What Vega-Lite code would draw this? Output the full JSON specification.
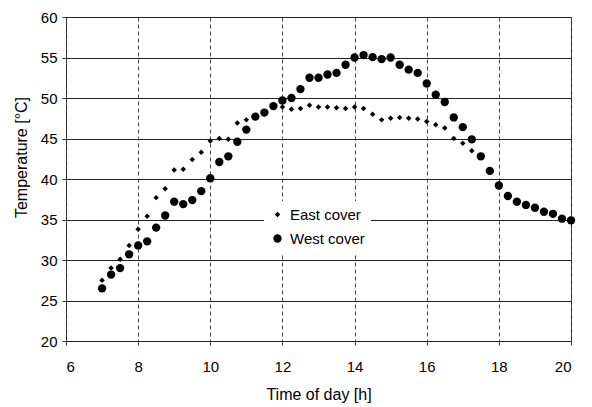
{
  "$schema": "https://vega.github.io/schema/vega-lite/v6.json",
  "autosize": "none",
  "width": 505,
  "height": 324,
  "padding": {"left": 66, "top": 17, "right": 21, "bottom": 66},
  "background": "white",
  "config": {
    "font": "Liberation Sans",
    "view": {"stroke": "#222", "strokeWidth": 1},
    "legend": {
      "orient": "none", "legendX": 198, "legendY": 184,
      "fillColor": "white", "padding": 6, "labelFontSize": 15, "labelColor": "black",
      "rowPadding": 8, "labelOffset": 5, "symbolStrokeWidth": 0
    }
  },
  "data": {"values": [
    {"hour": 7.0, "temp": 27.5, "series": "East cover"},
    {"hour": 7.25, "temp": 29.0, "series": "East cover"},
    {"hour": 7.5, "temp": 30.1, "series": "East cover"},
    {"hour": 7.75, "temp": 31.8, "series": "East cover"},
    {"hour": 8.0, "temp": 33.8, "series": "East cover"},
    {"hour": 8.25, "temp": 35.4, "series": "East cover"},
    {"hour": 8.5, "temp": 37.7, "series": "East cover"},
    {"hour": 8.75, "temp": 38.8, "series": "East cover"},
    {"hour": 9.0, "temp": 41.1, "series": "East cover"},
    {"hour": 9.25, "temp": 41.2, "series": "East cover"},
    {"hour": 9.5, "temp": 42.4, "series": "East cover"},
    {"hour": 9.75, "temp": 43.3, "series": "East cover"},
    {"hour": 10.0, "temp": 44.7, "series": "East cover"},
    {"hour": 10.25, "temp": 45.0, "series": "East cover"},
    {"hour": 10.5, "temp": 44.9, "series": "East cover"},
    {"hour": 10.75, "temp": 46.9, "series": "East cover"},
    {"hour": 11.0, "temp": 47.3, "series": "East cover"},
    {"hour": 11.25, "temp": 47.7, "series": "East cover"},
    {"hour": 11.5, "temp": 48.2, "series": "East cover"},
    {"hour": 11.75, "temp": 48.9, "series": "East cover"},
    {"hour": 12.0, "temp": 48.9, "series": "East cover"},
    {"hour": 12.25, "temp": 48.6, "series": "East cover"},
    {"hour": 12.5, "temp": 48.7, "series": "East cover"},
    {"hour": 12.75, "temp": 49.1, "series": "East cover"},
    {"hour": 13.0, "temp": 48.9, "series": "East cover"},
    {"hour": 13.25, "temp": 48.9, "series": "East cover"},
    {"hour": 13.5, "temp": 48.8, "series": "East cover"},
    {"hour": 13.75, "temp": 48.7, "series": "East cover"},
    {"hour": 14.0, "temp": 48.9, "series": "East cover"},
    {"hour": 14.25, "temp": 48.7, "series": "East cover"},
    {"hour": 14.5, "temp": 48.0, "series": "East cover"},
    {"hour": 14.75, "temp": 47.3, "series": "East cover"},
    {"hour": 15.0, "temp": 47.5, "series": "East cover"},
    {"hour": 15.25, "temp": 47.6, "series": "East cover"},
    {"hour": 15.5, "temp": 47.5, "series": "East cover"},
    {"hour": 15.75, "temp": 47.4, "series": "East cover"},
    {"hour": 16.0, "temp": 47.1, "series": "East cover"},
    {"hour": 16.25, "temp": 46.7, "series": "East cover"},
    {"hour": 16.5, "temp": 46.3, "series": "East cover"},
    {"hour": 16.75, "temp": 45.0, "series": "East cover"},
    {"hour": 17.0, "temp": 44.4, "series": "East cover"},
    {"hour": 17.25, "temp": 43.5, "series": "East cover"},
    {"hour": 7.0, "temp": 26.5, "series": "West cover"},
    {"hour": 7.25, "temp": 28.2, "series": "West cover"},
    {"hour": 7.5, "temp": 29.0, "series": "West cover"},
    {"hour": 7.75, "temp": 30.7, "series": "West cover"},
    {"hour": 8.0, "temp": 31.8, "series": "West cover"},
    {"hour": 8.25, "temp": 32.3, "series": "West cover"},
    {"hour": 8.5, "temp": 34.0, "series": "West cover"},
    {"hour": 8.75, "temp": 35.5, "series": "West cover"},
    {"hour": 9.0, "temp": 37.2, "series": "West cover"},
    {"hour": 9.25, "temp": 36.9, "series": "West cover"},
    {"hour": 9.5, "temp": 37.4, "series": "West cover"},
    {"hour": 9.75, "temp": 38.5, "series": "West cover"},
    {"hour": 10.0, "temp": 40.1, "series": "West cover"},
    {"hour": 10.25, "temp": 42.1, "series": "West cover"},
    {"hour": 10.5, "temp": 42.8, "series": "West cover"},
    {"hour": 10.75, "temp": 44.6, "series": "West cover"},
    {"hour": 11.0, "temp": 46.1, "series": "West cover"},
    {"hour": 11.25, "temp": 47.7, "series": "West cover"},
    {"hour": 11.5, "temp": 48.2, "series": "West cover"},
    {"hour": 11.75, "temp": 49.0, "series": "West cover"},
    {"hour": 12.0, "temp": 49.7, "series": "West cover"},
    {"hour": 12.25, "temp": 50.0, "series": "West cover"},
    {"hour": 12.5, "temp": 51.1, "series": "West cover"},
    {"hour": 12.75, "temp": 52.5, "series": "West cover"},
    {"hour": 13.0, "temp": 52.5, "series": "West cover"},
    {"hour": 13.25, "temp": 52.9, "series": "West cover"},
    {"hour": 13.5, "temp": 53.1, "series": "West cover"},
    {"hour": 13.75, "temp": 54.1, "series": "West cover"},
    {"hour": 14.0, "temp": 55.0, "series": "West cover"},
    {"hour": 14.25, "temp": 55.3, "series": "West cover"},
    {"hour": 14.5, "temp": 55.05, "series": "West cover"},
    {"hour": 14.75, "temp": 54.8, "series": "West cover"},
    {"hour": 15.0, "temp": 55.0, "series": "West cover"},
    {"hour": 15.25, "temp": 54.1, "series": "West cover"},
    {"hour": 15.5, "temp": 53.5, "series": "West cover"},
    {"hour": 15.75, "temp": 53.1, "series": "West cover"},
    {"hour": 16.0, "temp": 51.8, "series": "West cover"},
    {"hour": 16.25, "temp": 50.4, "series": "West cover"},
    {"hour": 16.5, "temp": 49.5, "series": "West cover"},
    {"hour": 16.75, "temp": 47.6, "series": "West cover"},
    {"hour": 17.0, "temp": 46.4, "series": "West cover"},
    {"hour": 17.25, "temp": 44.9, "series": "West cover"},
    {"hour": 17.5, "temp": 42.8, "series": "West cover"},
    {"hour": 17.75, "temp": 41.0, "series": "West cover"},
    {"hour": 18.0, "temp": 39.2, "series": "West cover"},
    {"hour": 18.25, "temp": 37.9, "series": "West cover"},
    {"hour": 18.5, "temp": 37.2, "series": "West cover"},
    {"hour": 18.75, "temp": 36.8, "series": "West cover"},
    {"hour": 19.0, "temp": 36.45, "series": "West cover"},
    {"hour": 19.25, "temp": 35.95, "series": "West cover"},
    {"hour": 19.5, "temp": 35.7, "series": "West cover"},
    {"hour": 19.75, "temp": 35.1, "series": "West cover"},
    {"hour": 20.0, "temp": 34.9, "series": "West cover"}
  ]},
  "mark": {"type": "point", "filled": true, "opacity": 1, "color": "black"},
  "encoding": {
    "x": {
      "field": "hour", "type": "quantitative",
      "scale": {"domain": [6, 20], "nice": false, "zero": false},
      "axis": {
        "title": "Time of day [h]", "values": [6, 8, 10, 12, 14, 16, 18, 20],
        "domain": false, "tickSize": 4, "tickColor": "#333",
        "labelFontSize": 15, "labelColor": "black", "labelPadding": 14,
        "titleFontSize": 16, "titleFontWeight": "normal", "titleColor": "black", "titlePadding": 12,
        "grid": true, "gridColor": "#444", "gridDash": [4, 3], "gridWidth": 1
      }
    },
    "y": {
      "field": "temp", "type": "quantitative",
      "scale": {"domain": [20, 60], "nice": false, "zero": false},
      "axis": {
        "title": "Temperature [°C]", "values": [20, 25, 30, 35, 40, 45, 50, 55, 60],
        "domain": false, "tickSize": 4, "tickColor": "#333",
        "labelFontSize": 15, "labelColor": "black", "labelPadding": 5,
        "titleFontSize": 16, "titleFontWeight": "normal", "titleColor": "black", "titlePadding": 11,
        "titleY": 140,
        "grid": true, "gridColor": "#222", "gridWidth": 1
      }
    },
    "shape": {
      "field": "series", "type": "nominal",
      "scale": {"domain": ["East cover", "West cover"], "range": ["diamond", "circle"]},
      "legend": {"title": null}
    },
    "size": {
      "field": "series", "type": "nominal",
      "scale": {"domain": ["East cover", "West cover"], "range": [30, 70]},
      "legend": {"title": null}
    }
  }
}
